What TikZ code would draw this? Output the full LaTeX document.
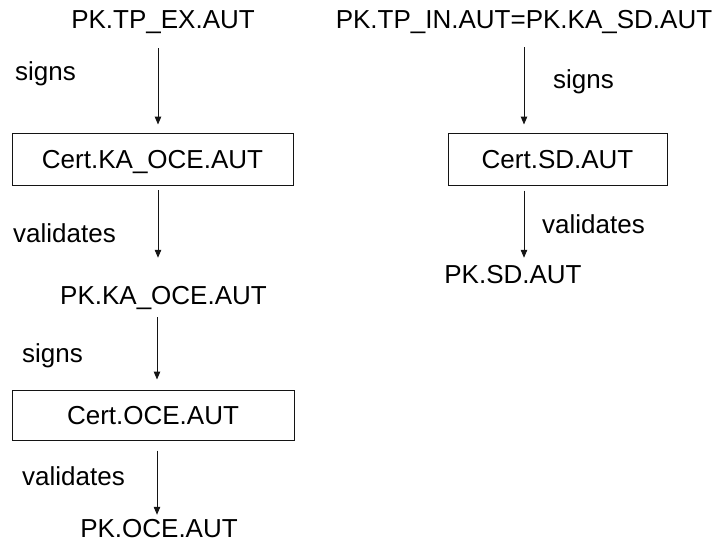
\documentclass[tikz,border=0pt]{standalone}
\usepackage{fontspec}
\setmainfont{Liberation Sans}
\usetikzlibrary{arrows.meta}
\definecolor{figBorde}{RGB}{20,20,20}
\tikzset{
  caja/.style={
    rectangle, draw=figBorde, line width=1pt, inner sep=0pt,
    font=\fontsize{26}{30}\selectfont, text height=18pt, text depth=0pt
  },
  clave/.style={
    anchor=base, inner sep=0pt,
    font=\fontsize{26}{30}\selectfont, text height=18pt, text depth=0pt
  },
  rotulo/.style={anchor=base west, inner sep=0pt, font=\fontsize{26}{30}\selectfont},
  flecha/.style={-{Triangle[length=8pt,width=6.5pt]}, line width=1pt, draw=figBorde}
}

\begin{document}
\begin{tikzpicture}[x=1pt,y=-1pt]
  \useasboundingbox (0,0) rectangle (726,544);
  \coordinate (colA) at (158,0);
  \coordinate (colB) at (157,0);
  \coordinate (colC) at (524,0);
  % cadena de la izquierda
  \node[clave] (tpex) at (163,28) {PK.TP\_EX.AUT};
  \node[caja, minimum width=281pt, minimum height=52pt] (certkaoce) at (152.5,159) {Cert.KA\_OCE.AUT};
  \node[clave] (pkkaoce) at (163.5,304) {PK.KA\_OCE.AUT};
  \node[caja, minimum width=282pt, minimum height=50pt] (certoce) at (153,415) {Cert.OCE.AUT};
  \node[clave] (pkoce) at (159,537) {PK.OCE.AUT};
  \node[rotulo] (firma1) at (15,80) {signs};
  \node[rotulo] (valida1) at (13,242) {validates};
  \node[rotulo] (firma2) at (22,362) {signs};
  \node[rotulo] (valida2) at (22,485) {validates};
  \draw[flecha, shorten <=20pt, shorten >=8pt] (tpex.south -| colA) -- (certkaoce.north -| colA);
  \draw[flecha, shorten <=4.5pt, shorten >=28pt] (certkaoce.south -| colA) -- (pkkaoce.north -| colA);
  \draw[flecha, shorten <=13pt, shorten >=10pt] (pkkaoce.south -| colB) -- (certoce.north -| colB);
  \draw[flecha, shorten <=10pt, shorten >=4pt] (certoce.south -| colB) -- (pkoce.north -| colB);
  % cadena de la derecha
  \node[clave] (tpin) at (524,28) {PK.TP\_IN.AUT=PK.KA\_SD.AUT};
  \node[caja, minimum width=219pt, minimum height=52pt] (certsd) at (557.5,159) {Cert.SD.AUT};
  \node[clave] (pksd) at (513,283) {PK.SD.AUT};
  \node[rotulo] (firma3) at (553,88) {signs};
  \node[rotulo] (valida3) at (542,233) {validates};
  \draw[flecha, shorten <=19pt, shorten >=8pt] (tpin.south -| colC) -- (certsd.north -| colC);
  \draw[flecha, shorten <=5pt, shorten >=7pt] (certsd.south -| colC) -- (pksd.north -| colC);
\end{tikzpicture}
\end{document}
